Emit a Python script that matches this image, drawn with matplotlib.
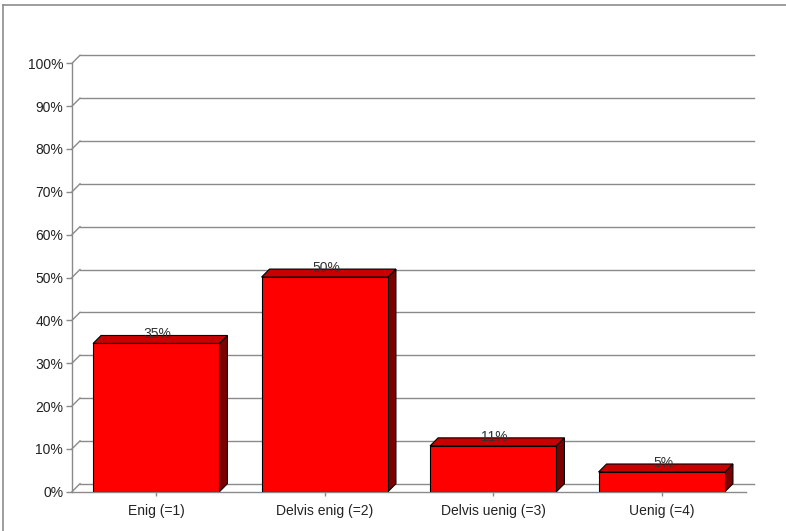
import numpy
import matplotlib
matplotlib.use('Agg')
import matplotlib.pyplot
import matplotlib.lines
import matplotlib.patches

categories = ["Enig (=1)", "Delvis enig (=2)", "Delvis uenig (=3)", "Uenig (=4)"]
values = [34.6, 50.1, 10.7, 4.6]  # percent
y_ticks = [0, 10, 20, 30, 40, 50, 60, 70, 80, 90, 100]
y_tick_labels = ["0%", "10%", "20%", "30%", "40%", "50%", "60%", "70%", "80%", "90%", "100%"]

def plot_bars(file: str):
  matplotlib.pyplot.rcParams['font.family'] = ['Liberation Sans', 'DejaVu Sans']
  fig = matplotlib.pyplot.figure(figsize=(7.86, 5.31), dpi=100)
  W, H = 786.0, 531.0
  # front plane of the plot, in pixels
  ax = fig.add_axes([72 / W, (H - 491.7) / H, 674 / W, 428.4 / H])
  n = len(categories)
  ax.set_xlim(-0.5, n - 0.5)
  ax.set_ylim(0, 100)
  # depth of the 3d effect: 8 px right, 8 px up
  depth = 8.0
  dx = depth / (ax.bbox.width / n)
  dy = depth / (ax.bbox.height / 100.0)
  grid = '#8a8a8a'
  # back wall gridlines and the little diagonals to the axis
  for t in y_ticks:
    ax.plot([-0.5 + dx, n - 0.5 + dx], [t + dy, t + dy], color=grid, lw=1.0, zorder=1, clip_on=False)
    ax.plot([-0.5, -0.5 + dx], [t, t + dy], color=grid, lw=1.0, zorder=1, clip_on=False)
  # front edge of the floor
  ax.plot([-0.5, n - 0.5], [0, 0], color=grid, lw=1.0, zorder=1, clip_on=False)
  # bars
  x = numpy.arange(n)
  w = 0.75
  for xi, v in zip(x, values):
    l, r = xi - w / 2, xi + w / 2
    top = matplotlib.patches.Polygon([(l, v), (r, v), (r + dx, v + dy), (l + dx, v + dy)],
                                     closed=True, facecolor='#c80000', edgecolor='black', lw=0.8, zorder=3, clip_on=False)
    side = matplotlib.patches.Polygon([(r, 0), (r + dx, dy), (r + dx, v + dy), (r, v)],
                                      closed=True, facecolor='#7c0000', edgecolor='black', lw=0.8, zorder=3, clip_on=False)
    ax.add_patch(top)
    ax.add_patch(side)
  ax.bar(x, values, width=w, color='#ff0000', edgecolor='black', lw=0.8, zorder=4)
  for xi, v in zip(x, values):
    ax.annotate("%d%%" % round(v), (xi, v), xytext=(1, 6.5), textcoords='offset points',
                ha='center', va='center', fontsize=10, color='#333333', zorder=5)
  # axes
  for s in ['top', 'right', 'bottom']:
    ax.spines[s].set_visible(False)
  ax.spines['left'].set_color(grid)
  ax.spines['left'].set_linewidth(1.0)
  ax.set_yticks(y_ticks)
  ax.set_yticklabels(y_tick_labels, fontsize=10, color='#222222')
  ax.set_xticks(x)
  ax.set_xticklabels(categories, fontsize=10, color='#222222')
  ax.tick_params(axis='y', length=4.3, width=1.0, color=grid, pad=2)
  ax.tick_params(axis='x', length=3.0, width=1.0, color=grid, pad=6)
  ax.patch.set_alpha(0)
  # outer frame (left and top only)
  fig.add_artist(matplotlib.lines.Line2D([3 / W, 3 / W], [0, (H - 5) / H], color='#8c8c8c', lw=1.2, transform=fig.transFigure))
  fig.add_artist(matplotlib.lines.Line2D([3 / W, 1], [(H - 5) / H, (H - 5) / H], color='#8c8c8c', lw=1.2, transform=fig.transFigure))
  fig.savefig(file, dpi=100)

def main():
  plot_bars('out.png')

if __name__ == "__main__":
  main()
